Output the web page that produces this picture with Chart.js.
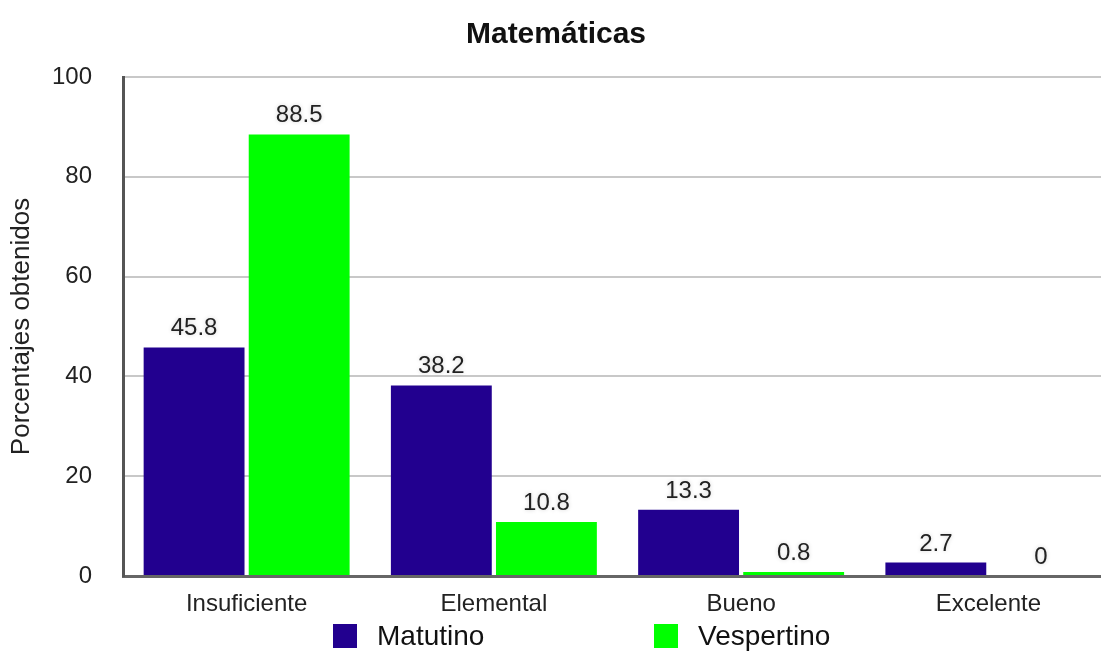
<!DOCTYPE html>
<html>
<head>
<meta charset="utf-8">
<script src="https://cdn.jsdelivr.net/npm/chart.js@4.4.1/dist/chart.umd.min.js"></script>
<style>
  body { margin: 0; background: #fff; overflow: hidden; }
  #wrap { position: relative; width: 1116px; height: 652px; }
  #legend { position: absolute; left: 333px; top: 620px; display: flex; font-family: "Liberation Sans", Arial, sans-serif; font-size: 28px; color: #111; }
  #legend .item { display: flex; align-items: center; min-width: 321px; }
  #legend .box { width: 24px; height: 24px; margin-right: 20px; }
</style>
</head>
<body>
<div id="wrap">
  <canvas id="chart" width="1116" height="652"></canvas>
  <div id="legend"></div>
</div>
<script>
const categories = ["Insuficiente", "Elemental", "Bueno", "Excelente"];
const seriesNames = ["Matutino", "Vespertino"];
const matutino = [45.8, 38.2, 13.3, 2.7];
const vespertino = [88.5, 10.8, 0.8, 0];
const yTicks = [0, 20, 40, 60, 80, 100];

const colors = ["#22008f", "#00ff00"];
const font = "'Liberation Sans', Arial, sans-serif";

// values written over each bar
const valueLabels = {
  id: "valueLabels",
  afterDatasetsDraw(chart) {
    const ctx = chart.ctx;
    ctx.save();
    ctx.font = "24px " + font;
    ctx.fillStyle = "#222";
    ctx.textAlign = "center";
    ctx.textBaseline = "alphabetic";
    ctx.shadowColor = "rgba(0,0,0,0.18)";
    ctx.shadowBlur = 4;
    chart.data.datasets.forEach((ds, i) => {
      chart.getDatasetMeta(i).data.forEach((bar, j) => {
        ctx.fillText(String(ds.data[j]), bar.x, bar.y - 12);
      });
    });
    ctx.restore();
  }
};

const chart = new Chart(document.getElementById("chart"), {
  type: "bar",
  data: {
    labels: categories,
    datasets: [
      { label: seriesNames[0], data: matutino, backgroundColor: colors[0] },
      { label: seriesNames[1], data: vespertino, backgroundColor: colors[1] }
    ]
  },
  options: {
    responsive: false,
    animation: false,
    layout: { padding: { left: 0, right: 4, top: 0, bottom: 0 } },
    datasets: { bar: { categoryPercentage: 0.85, barPercentage: 0.96 } },
    plugins: {
      legend: { display: false },
      tooltip: { enabled: false },
      title: {
        display: true,
        text: "Matemáticas",
        color: "#111",
        font: { family: font, size: 30, weight: "bold" },
        padding: { top: 17, bottom: 24 }
      }
    },
    scales: {
      x: {
        grid: { display: false, drawTicks: false },
        border: { color: "#666", width: 3 },
        ticks: { color: "#222", font: { family: font, size: 24 }, padding: 14 },
        afterFit: (s) => { s.height = 76; }
      },
      y: {
        min: 0,
        max: 100,
        afterBuildTicks: (s) => { s.ticks = yTicks.map(v => ({ value: v })); },
        grid: { color: "#c8c8c8", lineWidth: 2, drawTicks: false },
        border: { color: "#555", width: 3 },
        ticks: { color: "#222", font: { family: font, size: 24 }, padding: 31 },
        title: {
          display: true,
          text: "Porcentajes obtenidos",
          color: "#222",
          font: { family: font, size: 26 },
          padding: { top: 6, bottom: 0 }
        },
        afterFit: (s) => { s.width = 123; }
      }
    }
  },
  plugins: [valueLabels]
});

const legend = document.getElementById("legend");
chart.data.datasets.forEach(ds => {
  const item = document.createElement("div");
  item.className = "item";
  item.innerHTML = `<span class="box" style="background:${ds.backgroundColor}"></span><span>${ds.label}</span>`;
  legend.appendChild(item);
});
</script>
</body>
</html>
